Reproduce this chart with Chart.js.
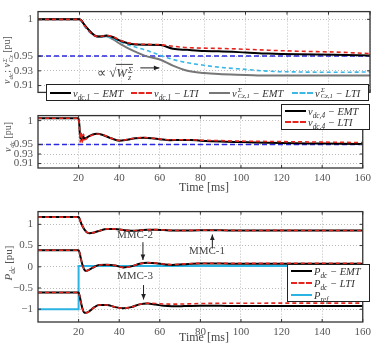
<!DOCTYPE html>
<html>
<head>
<meta charset="utf-8">
<script src="https://cdn.jsdelivr.net/npm/chart.js"></script>
<style>
  body { margin: 0; background: #fff; }
  #fig { position: relative; width: 375px; height: 343px; overflow: hidden; font-family: 'Liberation Serif', serif; color: #333; }
  .pane { position: absolute; left: 0; width: 375px; }
  .lbl { position: absolute; white-space: nowrap; font-size: 11px; color: #444; transform: translate(-50%, -50%); }
  .ylab { position: absolute; transform: translate(-50%, -50%) rotate(-90deg); white-space: nowrap; font-size: 10px; color: #555; }
  .leg { position: absolute; background: #fff; border: 1px solid #222; font-size: 10.5px; color: #333; }
  .item { position: absolute; white-space: nowrap; display: flex; align-items: center; height: 12px; }
  .sw { display: inline-block; width: 21px; height: 0; margin-right: 2px; }
  sub, sup { font-size: 0.7em; line-height: 0; }
  .ss { display: inline-flex; flex-direction: column; font-size: 0.65em; line-height: 0.85; vertical-align: middle; margin-left: 1px; }
</style>
</head>
<body>
<div id="fig">
  <div class="pane" style="top:0;height:104px"><canvas id="c1"></canvas></div>
  <div class="pane" style="top:104px;height:96px"><canvas id="c2"></canvas></div>
  <div class="pane" style="top:200px;height:143px"><canvas id="c3"></canvas></div>

  <!-- axis titles -->
  <div class="ylab" style="left:7px;top:60px"><i>v<sub>dc</sub></i>; <i>v</i><span class="ss"><i>Σ</i><i>Cz</i></span> [pu]</div>
  <div class="ylab" style="left:7px;top:137px"><i>v<sub>dc</sub></i> [pu]</div>
  <div class="ylab" style="left:8px;top:263px;font-size:11px"><i>P<sub>dc</sub></i> [pu]</div>
  <div class="lbl" style="left:204px;top:187px;font-size:12px">Time [ms]</div>
  <div class="lbl" style="left:204px;top:337px;font-size:12px">Time [ms]</div>

  <!-- annotations -->
  <div class="lbl" style="left:115px;top:73px;font-size:13px">∝ √<span style="border-top:1px solid #444"><i>W</i><span class="ss"><i>Σ</i><i>z</i></span></span></div>
  <div class="lbl" style="left:135px;top:234px">MMC-2</div>
  <div class="lbl" style="left:207px;top:250px">MMC-1</div>
  <div class="lbl" style="left:135px;top:275px">MMC-3</div>

  <!-- legends -->
  <div class="leg" style="left:46px;top:84px;width:321px;height:15px">
    <div class="item" style="left:3px;top:2px"><span class="sw" style="border-top:2px solid #000"></span><i>v<sub>dc,1</sub> − EMT</i></div>
    <div class="item" style="left:84px;top:2px"><span class="sw" style="border-top:2px dashed #e5241e"></span><i>v<sub>dc,1</sub> − LTI</i></div>
    <div class="item" style="left:162px;top:2px"><span class="sw" style="border-top:2px solid #777"></span><i>v</i><span class="ss"><i>Σ</i><i>Cz,1</i></span>&nbsp;<i>− EMT</i></div>
    <div class="item" style="left:245px;top:2px"><span class="sw" style="border-top:2px dashed #3bb8e6"></span><i>v</i><span class="ss"><i>Σ</i><i>Cz,1</i></span>&nbsp;<i>− LTI</i></div>
  </div>
  <div class="leg" style="left:281px;top:104px;width:87px;height:24px">
    <div class="item" style="left:3px;top:0px"><span class="sw" style="border-top:2px solid #000"></span><i>v<sub>dc,4</sub> − EMT</i></div>
    <div class="item" style="left:3px;top:11px"><span class="sw" style="border-top:2px dashed #e5241e"></span><i>v<sub>dc,4</sub> − LTI</i></div>
  </div>
  <div class="leg" style="left:287px;top:264px;width:81px;height:36px">
    <div class="item" style="left:3px;top:0px"><span class="sw" style="border-top:2px solid #000"></span><i>P<sub>dc</sub> − EMT</i></div>
    <div class="item" style="left:3px;top:12px"><span class="sw" style="border-top:2px dashed #e5241e"></span><i>P<sub>dc</sub> − LTI</i></div>
    <div class="item" style="left:3px;top:24px"><span class="sw" style="border-top:2px solid #2bb3e3"></span><i>P<sub>ref</sub></i></div>
  </div>
</div>

<script>
  // ---- data ----
  const xTicks = [20, 40, 60, 80, 100, 120, 140, 160];
  const yTicksV = [0.91, 0.93, 0.95, 1];
  const yTicksP = [-1, -0.5, 0, 0.5, 1];
  const vLimit = [0, 160];
  const vLimitVal = [0.95, 0.95];

  // panel 1: dc voltage and sum capacitor voltage of MMC-1
  const t1 = [0, 20, 21, 22, 24, 26, 28, 30, 33, 36, 40, 46, 52, 59, 65, 72, 80, 87, 100, 111, 125, 143, 160];
  const vdc1Emt = [1, 1, 0.998, 0.994, 0.987, 0.981, 0.977, 0.9765, 0.978, 0.976, 0.9705, 0.966, 0.9655, 0.965, 0.960, 0.9585, 0.957, 0.9566, 0.955, 0.9535, 0.9525, 0.952, 0.951];
  const vdc1Lti = [1, 1, 0.998, 0.993, 0.986, 0.980, 0.977, 0.9768, 0.978, 0.9765, 0.971, 0.967, 0.966, 0.9655, 0.9635, 0.9616, 0.9608, 0.9605, 0.9593, 0.958, 0.9567, 0.9555, 0.9535];
  const vC1Emt = [1, 1, 0.998, 0.994, 0.987, 0.981, 0.977, 0.9765, 0.977, 0.973, 0.966, 0.957, 0.950, 0.945, 0.937, 0.930, 0.927, 0.9256, 0.9245, 0.9236, 0.9235, 0.9236, 0.9236];
  const vC1Lti = [1, 1, 0.997, 0.992, 0.985, 0.980, 0.977, 0.9765, 0.9765, 0.974, 0.969, 0.963, 0.958, 0.951, 0.9455, 0.941, 0.9375, 0.935, 0.932, 0.9295, 0.9285, 0.928, 0.9285];

  // panel 2: dc voltage of MMC-4
  const t2 = [0, 20, 20.4, 20.8, 21.3, 21.8, 22.4, 23, 25, 27, 29, 32, 36, 40, 44, 48, 52, 56, 60, 65, 70, 75, 80, 90, 100, 120, 140, 160];
  const vdc4Emt = [1.005, 1.005, 0.99, 0.962, 0.972, 0.958, 0.966, 0.962, 0.967, 0.971, 0.9725, 0.970, 0.963, 0.958, 0.960, 0.963, 0.964, 0.963, 0.961, 0.959, 0.9595, 0.9595, 0.958, 0.956, 0.955, 0.953, 0.952, 0.951];
  const vdc4Lti = [1.005, 1.005, 0.985, 0.955, 0.976, 0.955, 0.972, 0.960, 0.966, 0.970, 0.972, 0.970, 0.963, 0.9585, 0.9605, 0.9635, 0.9645, 0.9635, 0.9615, 0.960, 0.960, 0.9598, 0.959, 0.958, 0.957, 0.956, 0.955, 0.954];

  // panel 3: dc power of the converters
  const t3 = [0, 20, 20.5, 21, 22, 23, 24, 25.5, 27, 30, 34, 38, 42, 46, 50, 54, 58, 62, 66, 72, 80, 90, 100, 120, 140, 160];
  const mmc1Emt = [1.17, 1.17, 1.13, 1.06, 0.95, 0.87, 0.815, 0.79, 0.80, 0.845, 0.893, 0.89, 0.865, 0.85, 0.858, 0.873, 0.875, 0.865, 0.855, 0.853, 0.862, 0.858, 0.853, 0.855, 0.853, 0.852];
  const mmc1Lti = [1.17, 1.17, 1.13, 1.06, 0.95, 0.87, 0.815, 0.79, 0.80, 0.845, 0.893, 0.89, 0.865, 0.85, 0.858, 0.873, 0.876, 0.867, 0.857, 0.855, 0.863, 0.86, 0.856, 0.857, 0.856, 0.856];
  const mmc2Emt = [0.39, 0.39, 0.33, 0.22, 0.03, -0.08, -0.095, -0.06, -0.02, 0.04, 0.05, 0.03, -0.015, 0.01, 0.07, 0.095, 0.085, 0.06, 0.045, 0.06, 0.075, 0.075, 0.07, 0.07, 0.07, 0.07];
  const mmc2Lti = [0.39, 0.39, 0.33, 0.22, 0.03, -0.08, -0.095, -0.06, -0.02, 0.04, 0.05, 0.03, -0.015, 0.01, 0.07, 0.095, 0.088, 0.065, 0.052, 0.068, 0.082, 0.083, 0.08, 0.08, 0.08, 0.08];
  const mmc3Emt = [-0.605, -0.605, -0.68, -0.8, -1.0, -1.085, -1.08, -1.04, -0.98, -0.9, -0.9, -0.95, -0.975, -0.95, -0.885, -0.865, -0.89, -0.92, -0.93, -0.925, -0.915, -0.92, -0.925, -0.925, -0.925, -0.925];
  const mmc3Lti = [-0.605, -0.605, -0.68, -0.8, -1.0, -1.085, -1.08, -1.04, -0.98, -0.9, -0.9, -0.95, -0.975, -0.95, -0.885, -0.86, -0.865, -0.875, -0.88, -0.875, -0.865, -0.86, -0.86, -0.855, -0.855, -0.855];
  const tRef = [0, 20, 20, 160];
  const pRef = [-1, -1, 0.02, 0.02];

  // annotation arrows in data units: [x0, y0, x1, y1]
  const arrows1 = [[49.3, 0.934, 58.5, 0.934]];
  const arrows3 = [[51.7, 0.58, 51.7, 0.16], [85.9, 0.43, 85.9, 0.76], [52, -0.43, 52, -0.77]];

  // ---- helpers ----
  const pts = (t, v) => t.map((x, i) => ({ x: x, y: v[i] }));
  const RED = '#e5241e', CYAN = '#3bb8e6', BLUE = '#2a2ae0';

  function line(label, t, v, color, dash, width, mode) {
    return {
      label: label, data: pts(t, v), borderColor: color, borderWidth: width,
      borderDash: dash, pointRadius: 0, fill: false,
      cubicInterpolationMode: mode || 'monotone', tension: mode ? 0 : 0.4
    };
  }

  const frame = {
    id: 'frame',
    afterDraw(c) {
      const { ctx, chartArea: a, scales } = c;
      ctx.save();
      ctx.strokeStyle = '#333';
      ctx.lineWidth = 1.3;
      ctx.strokeRect(a.left, a.top, a.right - a.left, a.bottom - a.top);
      ctx.lineWidth = 1;
      ctx.beginPath();
      scales.x.ticks.forEach(t => {
        const p = scales.x.getPixelForValue(t.value);
        ctx.moveTo(p, a.bottom); ctx.lineTo(p, a.bottom - 3);
        ctx.moveTo(p, a.top); ctx.lineTo(p, a.top + 3);
      });
      scales.y.ticks.forEach(t => {
        const p = scales.y.getPixelForValue(t.value);
        ctx.moveTo(a.left, p); ctx.lineTo(a.left + 3, p);
        ctx.moveTo(a.right, p); ctx.lineTo(a.right - 3, p);
      });
      ctx.stroke();
      ctx.restore();
    }
  };

  function arrowPlugin(list) {
    return {
      id: 'arrows',
      afterDatasetsDraw(c) {
        const { ctx, scales: { x, y } } = c;
        ctx.save();
        ctx.strokeStyle = '#222';
        ctx.fillStyle = '#222';
        ctx.lineWidth = 1;
        list.forEach(([x0, y0, x1, y1]) => {
          const px0 = x.getPixelForValue(x0), py0 = y.getPixelForValue(y0);
          const px1 = x.getPixelForValue(x1), py1 = y.getPixelForValue(y1);
          const ang = Math.atan2(py1 - py0, px1 - px0);
          ctx.beginPath(); ctx.moveTo(px0, py0); ctx.lineTo(px1, py1); ctx.stroke();
          ctx.beginPath();
          ctx.moveTo(px1, py1);
          ctx.lineTo(px1 - 6 * Math.cos(ang - 0.4), py1 - 6 * Math.sin(ang - 0.4));
          ctx.lineTo(px1 - 6 * Math.cos(ang + 0.4), py1 - 6 * Math.sin(ang + 0.4));
          ctx.closePath(); ctx.fill();
        });
        ctx.restore();
      }
    };
  }

  const tickFont = { family: 'Liberation Serif', size: 11 };
  const fmt = v => String(v).replace('-', '−');

  function makeChart(id, datasets, yMin, yMax, yTicks, showX, padTop, xHeight, plugins) {
    return new Chart(document.getElementById(id), {
      type: 'line',
      data: { datasets: datasets },
      options: {
        responsive: true, maintainAspectRatio: false, animation: false,
        devicePixelRatio: 1,
        layout: { autoPadding: false, padding: { top: padTop, right: 5, left: 0, bottom: 0 } },
        plugins: { legend: { display: false }, tooltip: { enabled: false } },
        scales: {
          x: {
            type: 'linear', min: 0, max: 160,
            afterBuildTicks: s => { s.ticks = xTicks.map(v => ({ value: v })); },
            afterFit: s => { s.height = xHeight; },
            grid: { color: '#bbb', drawTicks: false },
            border: { display: false, dash: [1, 2] },
            ticks: { display: showX, font: tickFont, color: '#555', padding: 4, maxRotation: 0, autoSkip: false }
          },
          y: {
            min: yMin, max: yMax,
            afterBuildTicks: s => { s.ticks = yTicks.map(v => ({ value: v })); },
            afterFit: s => { s.width = 38; },
            grid: { color: '#bbb', drawTicks: false },
            border: { display: false, dash: [1, 2] },
            ticks: { font: tickFont, color: '#555', padding: 5, callback: fmt }
          }
        }
      },
      plugins: [frame].concat(plugins || [])
    });
  }

  makeChart('c1', [
    line('vdc1 LTI', t1, vdc1Lti, RED, [4, 3], 1.6),
    line('vdc1 EMT', t1, vdc1Emt, '#000', [], 2),
    line('vC1 LTI', t1, vC1Lti, CYAN, [4, 3], 1.6),
    line('vC1 EMT', t1, vC1Emt, '#777', [], 2),
    line('limit', vLimit, vLimitVal, BLUE, [5, 3], 1.5, 'default')
  ], 0.9007, 1.0105, yTicksV, false, 7, 3, [arrowPlugin(arrows1)]);

  makeChart('c2', [
    line('vdc4 LTI', t2, vdc4Lti, RED, [4, 3], 1.6),
    line('vdc4 EMT', t2, vdc4Emt, '#000', [], 2),
    line('limit', vLimit, vLimitVal, BLUE, [5, 3], 1.5, 'default')
  ], 0.9007, 1.0105, yTicksV, true, 1, 32);

  makeChart('c3', [
    line('MMC-1 LTI', t3, mmc1Lti, RED, [4, 3], 1.6),
    line('MMC-1 EMT', t3, mmc1Emt, '#000', [], 2),
    line('MMC-2 LTI', t3, mmc2Lti, RED, [4, 3], 1.6),
    line('MMC-2 EMT', t3, mmc2Emt, '#000', [], 2),
    line('MMC-3 LTI', t3, mmc3Lti, RED, [4, 3], 1.6),
    line('MMC-3 EMT', t3, mmc3Emt, '#000', [], 2),
    line('Pref', tRef, pRef, '#2bb3e3', [], 2, 'default')
  ], -1.3, 1.3, yTicksP, true, 5, 21, [arrowPlugin(arrows3)]);
</script>
</body>
</html>
